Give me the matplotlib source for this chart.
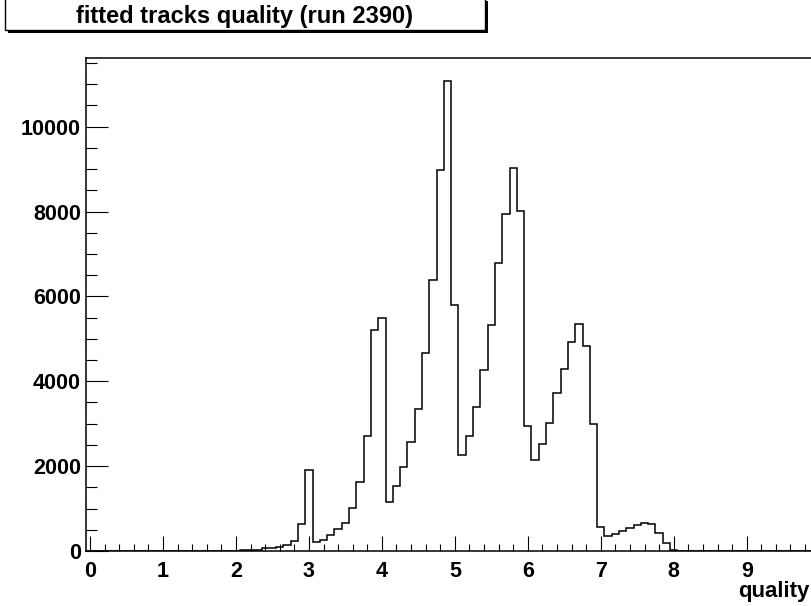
import numpy as np
import matplotlib
matplotlib.use('Agg')
import matplotlib.pyplot as plt
from matplotlib.patches import Rectangle
from matplotlib.ticker import MultipleLocator

# Histogram: 100 bins of width 0.1, centred on 0.0, 0.1, ... 9.9
bin_lo = -0.05
bin_hi = 9.95
n_bins = 100

# counts, bin by bin
counts = [
    0, 0, 0, 0, 0, 0, 0, 0, 0, 0,                                   # 0.0 - 0.9
    0, 0, 0, 0, 0, 0, 0, 0, 0, 0,                                   # 1.0 - 1.9
    5, 15, 25, 30, 60, 65, 95, 140, 235, 645,                       # 2.0 - 2.9
    1910, 212, 270, 370, 530, 665, 1010, 1635, 2710, 5218,          # 3.0 - 3.9
    5500, 1155, 1535, 1970, 2575, 3345, 4670, 6390, 8990, 11065,    # 4.0 - 4.9
    5800, 2270, 2700, 3385, 4265, 5330, 6785, 7940, 9035, 8020,     # 5.0 - 5.9
    2940, 2145, 2518, 3010, 3730, 4295, 4915, 5350, 4824, 2985,     # 6.0 - 6.9
    565, 350, 405, 480, 551, 610, 665, 635, 430, 177,               # 7.0 - 7.9
    15, 0, 0, 0, 0, 0, 0, 0, 0, 0,                                  # 8.0 - 8.9
    0, 0, 0, 0, 0, 0, 0, 0, 0, 0,                                   # 9.0 - 9.9
]

title_text = 'fitted tracks quality (run 2390)'
x_label = 'quality'

plt.rcParams['font.family'] = ['Liberation Sans', 'DejaVu Sans']
plt.rcParams['font.weight'] = 'bold'

W, H = 812, 606
fig = plt.figure(figsize=(W / 100, H / 100), dpi=100)
fig.patch.set_facecolor('white')

# axes frame in pixels (right edge runs just past the canvas)
left, right, top, bottom = 86.4, 816, 58, 551
ax = fig.add_axes([left / W, (H - bottom) / H, (right - left) / W, (bottom - top) / H])

edges = np.linspace(bin_lo, bin_hi, n_bins + 1)
ax.stairs(counts, edges, color='black', linewidth=1.1, baseline=0)

ax.set_xlim(bin_lo, bin_hi)
ax.set_ylim(0, 1.05 * max(counts))

ax.xaxis.set_major_locator(MultipleLocator(1))
ax.xaxis.set_minor_locator(MultipleLocator(0.2))
ax.yaxis.set_major_locator(MultipleLocator(2000))
ax.yaxis.set_minor_locator(MultipleLocator(500))

ax.tick_params(axis='x', which='major', direction='in', length=10.8, width=0.8, pad=7, labelsize=15.5)
ax.tick_params(axis='x', which='minor', direction='in', length=5, width=0.8)
ax.tick_params(axis='y', which='major', direction='in', length=15.5, width=0.8, pad=4, labelsize=15.5)
ax.tick_params(axis='y', which='minor', direction='in', length=8, width=0.8)
for lab in ax.get_xticklabels() + ax.get_yticklabels():
    lab.set_fontweight('bold')

for sp in ax.spines.values():
    sp.set_linewidth(1.1)
ax.spines['right'].set_visible(False)

fig.text(810 / W, 1 - 592 / H, x_label, ha='right', va='center', fontsize=16, fontweight='bold')

# title box with shadow, ROOT style
bx0, bx1, by0, by1 = 5, 485, -2, 30
shadow = Rectangle(((bx0 + 3) / W, 1 - (by1 + 3) / H), (bx1 - bx0) / W, (by1 - by0) / H,
                   transform=fig.transFigure, facecolor='black', edgecolor='none')
box = Rectangle((bx0 / W, 1 - by1 / H), (bx1 - bx0) / W, (by1 - by0) / H,
                transform=fig.transFigure, facecolor='white', edgecolor='black', linewidth=1)
fig.patches.extend([shadow, box])
fig.text((bx0 + bx1) / 2 / W, 1 - 16 / H, title_text, ha='center', va='center',
         fontsize=17, fontweight='bold')

fig.savefig('out.png', dpi=100)
